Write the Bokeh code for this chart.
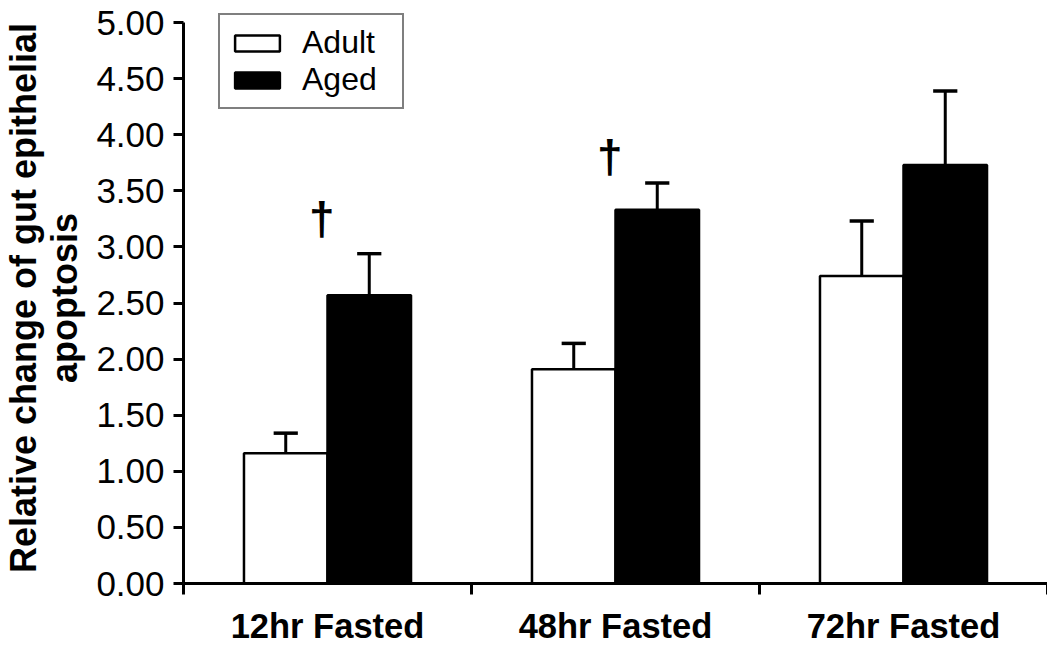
from bokeh.plotting import figure
from bokeh.models import FixedTicker, Legend, LegendItem, Range1d, NumeralTickFormatter, ColumnDataSource
from bokeh.core.properties import value
from bokeh.embed import file_html
from bokeh.resources import INLINE

categories = ["12hr Fasted", "48hr Fasted", "72hr Fasted"]
adult = [1.16, 1.91, 2.74]
adult_err = [0.18, 0.23, 0.49]
aged = [2.57, 3.33, 3.73]
aged_err = [0.37, 0.24, 0.66]
y_ticks = [0.0, 0.5, 1.0, 1.5, 2.0, 2.5, 3.0, 3.5, 4.0, 4.5, 5.0]
dagger_cat = [0, 1]
dagger_y = [3.25, 3.80]

FONT = "Liberation Sans"
n = len(categories)
centers = [i + 0.5 for i in range(n)]
off = 0.145
bw = 0.29
cap = 0.042

adult_x = [c - off for c in centers]
aged_x = [c + off for c in centers]

px_per_unit = 112.2
frame_h = 571
y_top = frame_h / px_per_unit

p = figure(output_backend="svg", toolbar_location=None,
           frame_width=864, frame_height=frame_h,
           min_border_left=175, min_border_right=0, min_border_top=12, min_border_bottom=40,
           x_range=Range1d(0, n), y_range=Range1d(0, y_top))
p.grid.visible = False
p.outline_line_color = None
p.background_fill_color = "white"

src_a = ColumnDataSource(dict(x=adult_x, top=adult, up=[v + e for v, e in zip(adult, adult_err)]))
src_g = ColumnDataSource(dict(x=aged_x, top=aged, up=[v + e for v, e in zip(aged, aged_err)]))

r_adult = p.vbar(x="x", top="top", bottom=0, width=bw, source=src_a,
                 fill_color="white", line_color="black", line_width=2.5)
r_aged = p.vbar(x="x", top="top", bottom=0, width=bw, source=src_g,
                fill_color="black", line_color="black", line_width=2.5)

for src in (src_a, src_g):
    p.segment(x0="x", y0="top", x1="x", y1="up", source=src, line_color="black", line_width=3)
    d = src.data
    p.segment(x0=[x - cap for x in d["x"]], y0=d["up"], x1=[x + cap for x in d["x"]], y1=d["up"],
              line_color="black", line_width=3.5)

p.text(x=[dagger_cat[i] + 0.48 for i in range(len(dagger_cat))], y=dagger_y, text=["†"] * len(dagger_y),
       text_font=value(FONT), text_font_size="46px", text_font_style="bold",
       text_align="center", text_baseline="middle", text_color="black")

# y axis
ya = p.yaxis[0]
ya.bounds = (0, 5)
ya.ticker = FixedTicker(ticks=y_ticks)
ya.formatter = NumeralTickFormatter(format="0.00")
ya.major_label_text_font = FONT
ya.major_label_text_font_size = "35px"
ya.major_label_text_color = "black"
ya.major_label_standoff = 9
ya.major_tick_out = 10
ya.major_tick_in = 0
ya.major_tick_line_width = 3
ya.minor_tick_line_color = None
ya.axis_line_width = 3
ya.axis_label = "Relative change of gut epithelial\napoptosis"
ya.axis_label_text_font = FONT
ya.axis_label_text_font_size = "36px"
ya.axis_label_text_font_style = "bold"
ya.axis_label_text_color = "black"
ya.axis_label_text_line_height = 1.0
ya.axis_label_standoff = 8

# x axis
xa = p.xaxis[0]
xa.ticker = FixedTicker(ticks=centers, minor_ticks=list(range(n + 1)))
xa.major_label_overrides = {c: lab for c, lab in zip(centers, categories)}
xa.major_label_text_font = FONT
xa.major_label_text_font_size = "34.5px"
xa.major_label_text_font_style = "bold"
xa.major_label_text_color = "black"
xa.major_tick_line_color = None
xa.major_tick_out = 10
xa.major_tick_in = 0
xa.major_label_standoff = 12
xa.minor_tick_out = 11
xa.minor_tick_in = 0
xa.minor_tick_line_width = 3
xa.minor_tick_line_color = "black"
xa.axis_line_width = 3

legend = Legend(items=[LegendItem(label="Adult", renderers=[r_adult]),
                       LegendItem(label="Aged", renderers=[r_aged])],
                location=(35, 474), margin=0, padding=9, spacing=0,
                glyph_width=56, glyph_height=20, label_standoff=17, label_width=91,
                label_text_font=FONT, label_text_font_size="32px", label_text_color="black",
                border_line_color="black", border_line_width=2.5,
                background_fill_color="white", background_fill_alpha=1.0)
p.add_layout(legend)

open("out.html", "w").write(file_html(p, INLINE))
